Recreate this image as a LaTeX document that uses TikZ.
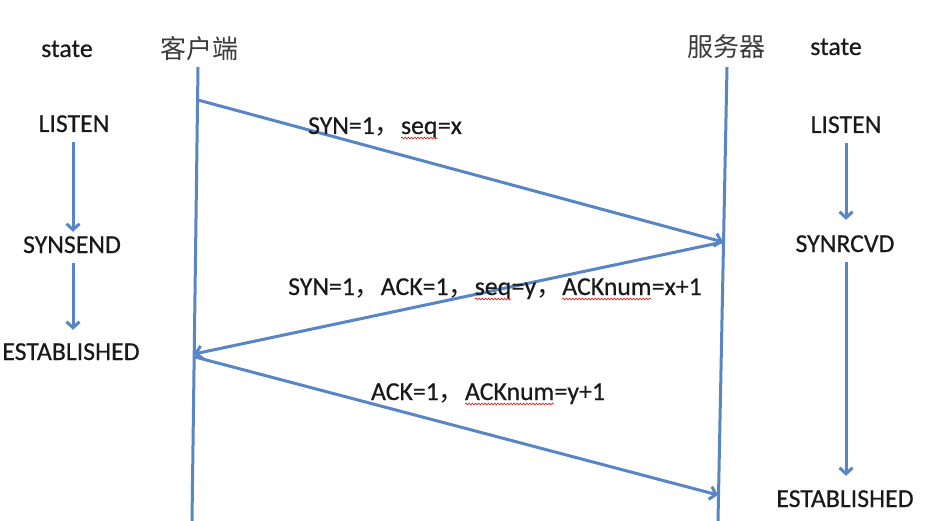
\documentclass[tikz,border=0pt]{standalone}
\usepackage{fontspec}
\setmainfont{Carlito}[FakeBold=0.5]
\newfontfamily\cjk{Noto Sans CJK SC}
\usetikzlibrary{arrows.meta,decorations.pathmorphing}
\definecolor{lineblue}{RGB}{88,133,196}
\definecolor{txt}{RGB}{25,25,25}
\definecolor{sqred}{RGB}{215,40,40}
\newcommand\fwc{{\cjk ，}}
\newcommand\squig[1]{\tikz[baseline=(w.base)]{\node[inner sep=0pt,outer sep=0pt,text depth=0pt](w){#1};\draw[sqred,line width=0.7pt,decorate,decoration={snake,amplitude=0.9pt,segment length=3.2pt}]([yshift=-4pt]w.base west)--([yshift=-4pt]w.base east);}}
\tikzset{
  lbl/.style={anchor=base,inner sep=0pt,text=txt,font=\fontsize{25.8}{30}\selectfont},
  statebox/.style={anchor=base,inner sep=4pt,text height=17pt,text depth=0pt,text=txt,font=\fontsize{25.8}{30}\selectfont},
  head/.style={anchor=base,inner sep=0pt,text=txt!85,font=\cjk\fontsize{26}{30}\selectfont},
  life/.style={draw=lineblue,line width=3pt},
  msg/.style={draw=lineblue,line width=3pt,-{Straight Barb[length=6pt,width=13pt]}},
  sarrow/.style={draw=lineblue,line width=3pt,-{Straight Barb[length=6pt,width=13pt]},shorten <=6pt}
}
\begin{document}
\begin{tikzpicture}[x=1pt,y=-1pt]
\useasboundingbox (0,0) rectangle (928,521);
% headers
\node[lbl] (stL) at (67,57) {state};
\node[head] (cli) at (199,59) {客户端};
\node[head] (srv) at (726,57) {服务器};
\node[lbl] (stR) at (836,55) {state};
% lifelines
\coordinate (ctop) at (198,67);
\coordinate (cbot) at (192,521);
\coordinate (stop) at (727,67);
\coordinate (sbot) at (718,521);
\draw[life] (ctop) -- (cbot);
\draw[life] (stop) -- (sbot);
% message points
\coordinate (c1) at (198,100);
\coordinate (s1) at (723,242);
\coordinate (c2) at (194,354);
\coordinate (c3) at (195,357);
\coordinate (s3) at (718,495);
\draw[msg] (c1) -- (s1);
\draw[msg] (s1) -- (c2);
\draw[msg] (c3) -- (s3);
% message labels
\node[lbl] (m1) at (385,134) {SYN=1\fwc\squig{seq}=x};
\node[lbl] (m2) at (495,295) {SYN=1\fwc ACK=1\fwc\squig{seq}=y\fwc\squig{ACKnum}=x+1};
\node[lbl] (m3) at (488,400) {ACK=1\fwc\squig{ACKnum}=y+1};
% client states
\node[statebox] (lL) at (74,132) {LISTEN};
\node[statebox] (sL) at (72,253) {SYNSEND};
\node[statebox] (eL) at (71,360) {ESTABLISHED};
\draw[sarrow] (lL.south -| 73,0) -- (sL.north -| 73,0);
\draw[sarrow,shorten >=9pt] (sL.south -| 73,0) -- (eL.north -| 73,0);
% server states
\node[statebox] (lR) at (846,133) {LISTEN};
\node[statebox] (sR) at (845,252) {SYNRCVD};
\node[statebox] (eR) at (845,507) {ESTABLISHED};
\draw[sarrow,shorten >=11pt] (lR.south -| 846,0) -- (sR.north -| 846,0);
\draw[sarrow,shorten >=10pt] (sR.south -| 846,0) -- (eR.north -| 846,0);
\end{tikzpicture}
\end{document}
